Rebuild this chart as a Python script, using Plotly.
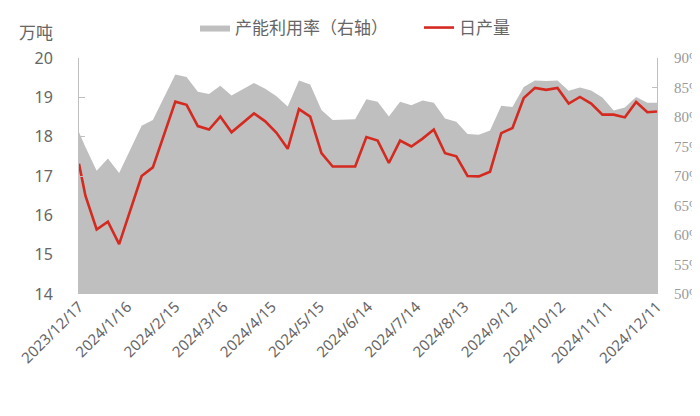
import plotly.graph_objects as go

# weekly data (first / last point are the range ends)
dates = ['2023-12-17', '2023-12-21', '2023-12-28',
         '2024-01-04', '2024-01-11', '2024-01-18', '2024-01-25',
         '2024-02-01', '2024-02-08', '2024-02-15', '2024-02-22', '2024-02-29',
         '2024-03-07', '2024-03-14', '2024-03-21', '2024-03-28',
         '2024-04-04', '2024-04-11', '2024-04-18', '2024-04-25',
         '2024-05-02', '2024-05-09', '2024-05-16', '2024-05-23', '2024-05-30',
         '2024-06-06', '2024-06-13', '2024-06-20', '2024-06-27',
         '2024-07-04', '2024-07-11', '2024-07-18', '2024-07-25',
         '2024-08-01', '2024-08-08', '2024-08-15', '2024-08-22', '2024-08-29',
         '2024-09-05', '2024-09-12', '2024-09-19', '2024-09-26',
         '2024-10-03', '2024-10-10', '2024-10-17', '2024-10-24', '2024-10-31',
         '2024-11-07', '2024-11-14', '2024-11-21', '2024-11-28',
         '2024-12-05', '2024-12-11']

daily_output = [17.31, 16.5, 15.64, 15.84, 15.27, 16.15, 17.0, 17.22, 18.07, 18.89,
                18.81, 18.27, 18.18, 18.51, 18.11, 18.35, 18.59, 18.39, 18.10, 17.69,
                18.70, 18.51, 17.58, 17.24, 17.24, 17.24, 17.99, 17.90, 17.33, 17.90,
                17.75, 17.95, 18.18, 17.58, 17.50, 17.00, 16.99, 17.11, 18.09, 18.22,
                18.98, 19.24, 19.19, 19.24, 18.84, 19.01, 18.84, 18.56, 18.56, 18.49,
                18.88, 18.62, 18.64]

utilization = [77.4, 74.9, 70.9, 72.95, 70.5, 74.4, 78.5, 79.5, 83.4, 87.2,
               86.8, 84.3, 83.9, 85.3, 83.65, 84.7, 85.75, 84.8, 83.5, 81.8,
               86.2, 85.5, 81.2, 79.5, 79.5, 79.6, 83.0, 82.6, 80.1, 82.6,
               82.0, 82.8, 82.4, 79.75, 79.2, 77.1, 77.0, 77.7, 81.9, 81.7,
               85.1, 86.2, 86.1, 86.2, 84.45, 85.0, 84.5, 83.3, 81.1, 81.6,
               83.4, 82.4, 82.4]

tick_dates = ['2023-12-17', '2024-01-16', '2024-02-15', '2024-03-16', '2024-04-15',
              '2024-05-15', '2024-06-14', '2024-07-14', '2024-08-13', '2024-09-12',
              '2024-10-12', '2024-11-11', '2024-12-11']
tick_labels = ['2023/12/17', '2024/1/16', '2024/2/15', '2024/3/16', '2024/4/15',
               '2024/5/15', '2024/6/14', '2024/7/14', '2024/8/13', '2024/9/12',
               '2024/10/12', '2024/11/11', '2024/12/11']

fig = go.Figure()
# area on the right axis (drawn first, so the line sits on top)
fig.add_trace(go.Scatter(
    x=dates, y=[u / 100 for u in utilization],
    name='产能利用率（右轴）', mode='lines',
    fill='tozeroy', fillcolor='#bfbfbf',
    line=dict(color='#bfbfbf', width=0),
    yaxis='y'))
fig.add_trace(go.Scatter(
    x=dates, y=daily_output,
    name='日产量', mode='lines',
    line=dict(color='#d42a20', width=2.6),
    yaxis='y2'))

# page body has an 8px margin, so the figure is a bit smaller than the window
fig.update_layout(
    width=692, height=408, autosize=False,
    margin=dict(l=71, r=43, t=50, b=122, autoexpand=False),
    paper_bgcolor='white', plot_bgcolor='white',
    font=dict(family='Noto Sans CJK SC', color='#666666'),
    showlegend=True,
    legend=dict(orientation='h', x=(195 - 79) / 578, xanchor='left',
                y=1 + (58 - 28) / 236, yanchor='middle',
                font=dict(size=17, color='#666666'), itemwidth=30,
                entrywidth=179, bgcolor='rgba(0,0,0,0)'),
    xaxis=dict(type='date', range=['2023-12-17', '2024-12-11'],
               tickvals=tick_dates, ticktext=tick_labels, tickangle=-45,
               tickfont=dict(family='Noto Sans', size=15, color='#666666'),
               showgrid=False, zeroline=False, showline=False, ticks='',
               automargin=False),
    yaxis=dict(side='right', range=[0.5, 0.9], dtick=0.05, tickformat='.0%',
               tickfont=dict(family='Liberation Serif', size=15, color='#999999'),
               showgrid=False, zeroline=False, showline=True, linecolor='#bfbfbf',
               ticks='inside', ticklen=5, tickcolor='#bfbfbf', ticklabelstandoff=13,
               automargin=False),
    yaxis2=dict(side='left', overlaying='y', range=[14, 20], dtick=1,
                tickfont=dict(family='Noto Sans', size=16, color='#666666'),
                showgrid=False, zeroline=False, showline=True, linecolor='#bfbfbf',
                ticks='inside', ticklen=6, tickcolor='#bfbfbf', ticklabelstandoff=22,
                automargin=False),
)

fig.add_annotation(text='万吨', xref='paper', yref='paper',
                   x=(17 - 79) / 578, y=1 + (58 - 31) / 236,
                   xanchor='left', yanchor='middle', showarrow=False,
                   font=dict(family='Noto Sans CJK SC', size=17, color='#666666'))

fig.write_html('out.html')
